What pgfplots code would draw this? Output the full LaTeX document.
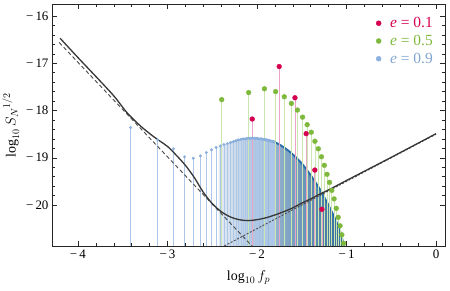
\documentclass[border=0pt]{standalone}
\usepackage{fontspec}
\setmainfont{Liberation Serif}
\usepackage{pgfplots}
\pgfplotsset{compat=1.18}

\definecolor{cred}{RGB}{214,0,80}
\definecolor{credstem}{RGB}{236,165,198}
\definecolor{cgreen}{RGB}{126,185,61}
\definecolor{cgreenstem}{RGB}{204,230,176}
\definecolor{bdot}{RGB}{140,176,222}
\definecolor{bstem}{RGB}{172,199,232}
\definecolor{blegend}{RGB}{130,165,210}
\definecolor{bfill0}{RGB}{228,236,246}
\definecolor{bfill1}{RGB}{138,170,205}
\definecolor{bfill2}{RGB}{48,106,156}
\definecolor{envlight}{RGB}{100,146,200}
\definecolor{envdark}{RGB}{40,110,170}
\definecolor{solidgray}{RGB}{55,55,55}
\definecolor{dashgray}{RGB}{75,75,75}

\begin{document}
\begin{tikzpicture}
\useasboundingbox (-52bp,-45bp) rectangle (398bp,246bp);
\begin{axis}[
  at={(0,0)}, anchor=south west, scale only axis,
  width=393bp, height=242bp,
  xmin=-4.29, xmax=0.1, ymin=-20.867, ymax=-15.746,
  xtick={-4,-3,-2,-1,0},
  xticklabels={{−\,4},{−\,3},{−\,2},{−\,1},{0}},
  ytick={-20,-19,-18,-17,-16},
  yticklabels={{−\,20},{−\,19},{−\,18},{−\,17},{−\,16}},
  minor x tick num=4, minor y tick num=4,
  tick align=inside, major tick length=5bp, minor tick length=2.8bp,
  every tick/.style={black!85, line width=0.5pt},
  axis line style={black!85, line width=0.8pt},
  tick label style={font=\fontsize{13}{15}\selectfont},
  xlabel={$\log_{10} f_p$}, ylabel={$\log_{10} {S_N}^{1/2}$},
  label style={font=\fontsize{14}{16}\selectfont},
  xlabel style={yshift=-5bp},
  legend style={at={(0.982,0.962)}, anchor=north east, draw=none, fill=none,
    font=\fontsize{15.5}{17}\selectfont, row sep=2bp, column sep=7bp},
  legend cell align=left,
]
\addlegendimage{only marks, mark=*, mark size=2.5bp, cred}
\addlegendentry{\textcolor{cred}{\textit{e} = 0.1}}
\addlegendimage{only marks, mark=*, mark size=2.5bp, cgreen}
\addlegendentry{\textcolor{cgreen}{\textit{e} = 0.5}}
\addlegendimage{only marks, mark=*, mark size=2.5bp, bdot}
\addlegendentry{\textcolor{blegend}{\textit{e} = 0.9}}

% e = 0.9 : shaded region of dense harmonics
\addplot[draw=none, left color=bfill0, middle color=bfill1, right color=bfill2, forget plot] table {
-2.43 -21.0
-2.43 -18.76
-2.40 -18.74
-2.35 -18.71
-2.30 -18.68
-2.25 -18.65
-2.20 -18.62
-2.15 -18.60
-2.10 -18.59
-2.05 -18.585
-2.00 -18.59
-1.95 -18.60
-1.90 -18.62
-1.85 -18.64
-1.80 -18.67
-1.75 -18.72
-1.70 -18.78
-1.65 -18.85
-1.60 -18.93
-1.55 -19.02
-1.50 -19.12
-1.45 -19.24
-1.40 -19.37
-1.35 -19.51
-1.30 -19.66
-1.25 -19.83
-1.20 -20.01
-1.15 -20.20
-1.10 -20.41
-1.06 -20.62
-1.03 -20.87
-1.02 -21.0
} -- cycle;

% e = 0.9 : individual harmonics
\addplot[only marks, mark=*, mark size=1.3bp, color=bdot, forget plot,
  error bars/.cd, y dir=minus, y fixed=5, error mark=none,
  error bar style={bstem, line width=0.6pt}] table {
-3.411 -18.36
-3.110 -18.62
-2.934 -18.81
-2.809 -18.98
-2.712 -19.01
-2.633 -18.96
-2.566 -18.89
-2.508 -18.83
-2.457 -18.78
-2.411 -18.75
-2.370 -18.72
-2.332 -18.70
-2.297 -18.68
-2.265 -18.66
-2.235 -18.64
-2.207 -18.62
-2.181 -18.61
-2.156 -18.60
-2.132 -18.60
-2.110 -18.59
-2.089 -18.59
-2.069 -18.585
-2.049 -18.585
-2.031 -18.585
-2.013 -18.59
-1.996 -18.59
-1.980 -18.60
-1.964 -18.60
-1.949 -18.60
-1.934 -18.61
-1.920 -18.61
-1.906 -18.62
-1.893 -18.62
-1.880 -18.63
-1.867 -18.63
-1.855 -18.64
-1.843 -18.65
-1.831 -18.65
-1.820 -18.66
-1.809 -18.66
};

% envelope of the dense harmonics
\addplot[envlight, line width=1.3pt, smooth, forget plot] table {
-2.30 -18.68
-2.20 -18.62
-2.10 -18.59
-2.00 -18.59
-1.90 -18.62
-1.85 -18.64
};
\addplot[envdark, line width=1.9pt, smooth, forget plot] table {
-1.85 -18.64
-1.80 -18.67
-1.75 -18.72
-1.70 -18.78
-1.65 -18.85
-1.60 -18.93
-1.55 -19.02
-1.50 -19.12
-1.45 -19.24
-1.40 -19.37
-1.35 -19.51
-1.30 -19.66
-1.25 -19.83
-1.20 -20.01
-1.15 -20.20
-1.10 -20.41
-1.06 -20.62
-1.03 -20.87
};

% e = 0.5
\addplot[only marks, mark=*, mark size=2.4bp, color=cgreen, forget plot,
  error bars/.cd, y dir=minus, y fixed=5, error mark=none,
  error bar style={cgreenstem, line width=0.7pt}] table {
-2.394 -17.77
-2.093 -17.62
-1.917 -17.54
-1.792 -17.60
-1.695 -17.71
-1.616 -17.85
-1.549 -17.99
-1.491 -18.14
-1.440 -18.30
-1.394 -18.46
-1.353 -18.65
-1.315 -18.81
-1.280 -18.98
-1.248 -19.16
-1.218 -19.35
-1.190 -19.52
-1.164 -19.69
-1.139 -19.87
-1.115 -20.07
-1.093 -20.26
-1.072 -20.44
-1.052 -20.63
-1.032 -20.81
};

% e = 0.1
\addplot[only marks, mark=*, mark size=2.4bp, color=cred, forget plot,
  error bars/.cd, y dir=minus, y fixed=5, error mark=none,
  error bar style={credstem, line width=0.7pt}] table {
-2.053 -18.18
-1.752 -17.07
-1.576 -17.73
-1.451 -18.49
-1.354 -19.26
-1.275 -20.09
};

% asymptotes
\addplot[dashgray, line width=0.9pt, dash pattern=on 4bp off 2.5bp, forget plot] table {
-4.21 -16.56
-2.05 -20.88
};
\addplot[dashgray, line width=0.9pt, dash pattern=on 2bp off 1.6bp, forget plot] table {
-2.40 -20.90
0.00 -18.50
};

% sensitivity curve
\addplot[solidgray, line width=1.3pt, smooth, forget plot] table {
-4.20 -16.47
-4.00 -16.88
-3.80 -17.28
-3.60 -17.69
-3.45 -18.05
-3.30 -18.33
-3.15 -18.56
-3.00 -18.76
-2.90 -18.95
-2.80 -19.16
-2.70 -19.42
-2.60 -19.73
-2.50 -19.97
-2.40 -20.14
-2.30 -20.25
-2.20 -20.31
-2.10 -20.33
-2.00 -20.31
-1.90 -20.27
-1.80 -20.21
-1.70 -20.14
-1.60 -20.06
-1.50 -19.96
-1.40 -19.87
-1.30 -19.77
-1.20 -19.68
-1.00 -19.48
-0.50 -18.99
0.00 -18.49
};
\end{axis}
\end{tikzpicture}
\end{document}
